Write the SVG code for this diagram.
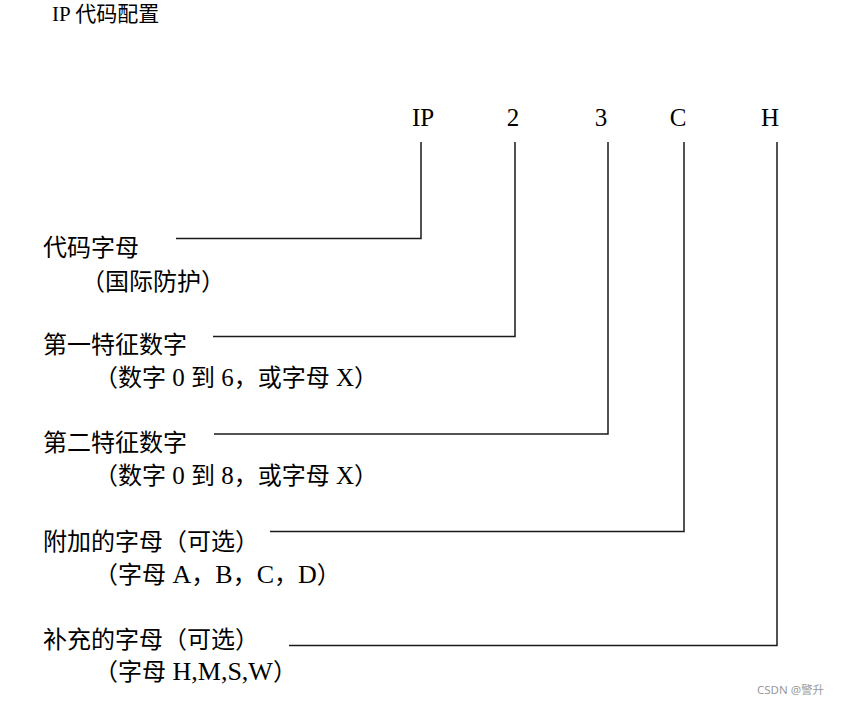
<svg xmlns="http://www.w3.org/2000/svg" width="842" height="704" viewBox="0 0 842 704">
<style>
  text { font-family: "Liberation Serif", "Noto Sans CJK SC", serif; fill: #000; }
  .title { font-size: 21px; }
  .code { font-size: 25px; text-anchor: middle; }
  .lbl { font-size: 24px; }
  .lat { font-size: 25px; }
  .lat2 { font-size: 26px; }
  .wm { font-family: "Noto Sans", "Noto Sans CJK SC", sans-serif; font-size: 11.5px; fill: #999; }
  .conn { fill: none; stroke: #1a1a1a; stroke-width: 1.5; }
</style>
<rect width="842" height="704" fill="#fff"/>
<text class="title" x="52" y="21">IP 代码配置</text>

<g id="codes">
  <text class="code" x="423" y="126">IP</text>
  <text class="code" x="513" y="126">2</text>
  <text class="code" x="601" y="126">3</text>
  <text class="code" x="678" y="126">C</text>
  <text class="code" x="770" y="126">H</text>
</g>

<g id="connectors">
  <polyline class="conn" points="176,238.5 421,238.5 421,142"/>
  <polyline class="conn" points="213,336.5 515,336.5 515,142"/>
  <polyline class="conn" points="214,434 608,434 608,142"/>
  <polyline class="conn" points="270,531.5 684,531.5 684,142"/>
  <polyline class="conn" points="289,645.5 777,645.5 777,142"/>
</g>

<g id="node-ip">
  <text class="lbl" x="43" y="256">代码字母</text>
  <text class="lbl" x="81" y="290">（国际防护）</text>
</g>
<g id="node-first">
  <text class="lbl" x="43" y="353">第一特征数字</text>
  <text class="lbl" x="94" y="386">（数字<tspan class="lat"> 0 </tspan>到<tspan class="lat"> 6</tspan>，或字母<tspan class="lat"> X</tspan>）</text>
</g>
<g id="node-second">
  <text class="lbl" x="43" y="451">第二特征数字</text>
  <text class="lbl" x="94" y="484">（数字<tspan class="lat"> 0 </tspan>到<tspan class="lat"> 8</tspan>，或字母<tspan class="lat"> X</tspan>）</text>
</g>
<g id="node-additional">
  <text class="lbl" x="43" y="550">附加的字母（可选）</text>
  <text class="lbl" x="94" y="583">（字母<tspan class="lat2"> A</tspan>，<tspan class="lat2">B</tspan>，<tspan class="lat2">C</tspan>，<tspan class="lat2">D</tspan>）</text>
</g>
<g id="node-supplementary">
  <text class="lbl" x="43" y="648">补充的字母（可选）</text>
  <text class="lbl" x="94" y="680">（字母<tspan class="lat2"> H,M,S,W</tspan>）</text>
</g>

<text class="wm" x="757" y="694">CSDN @警升</text>
</svg>
